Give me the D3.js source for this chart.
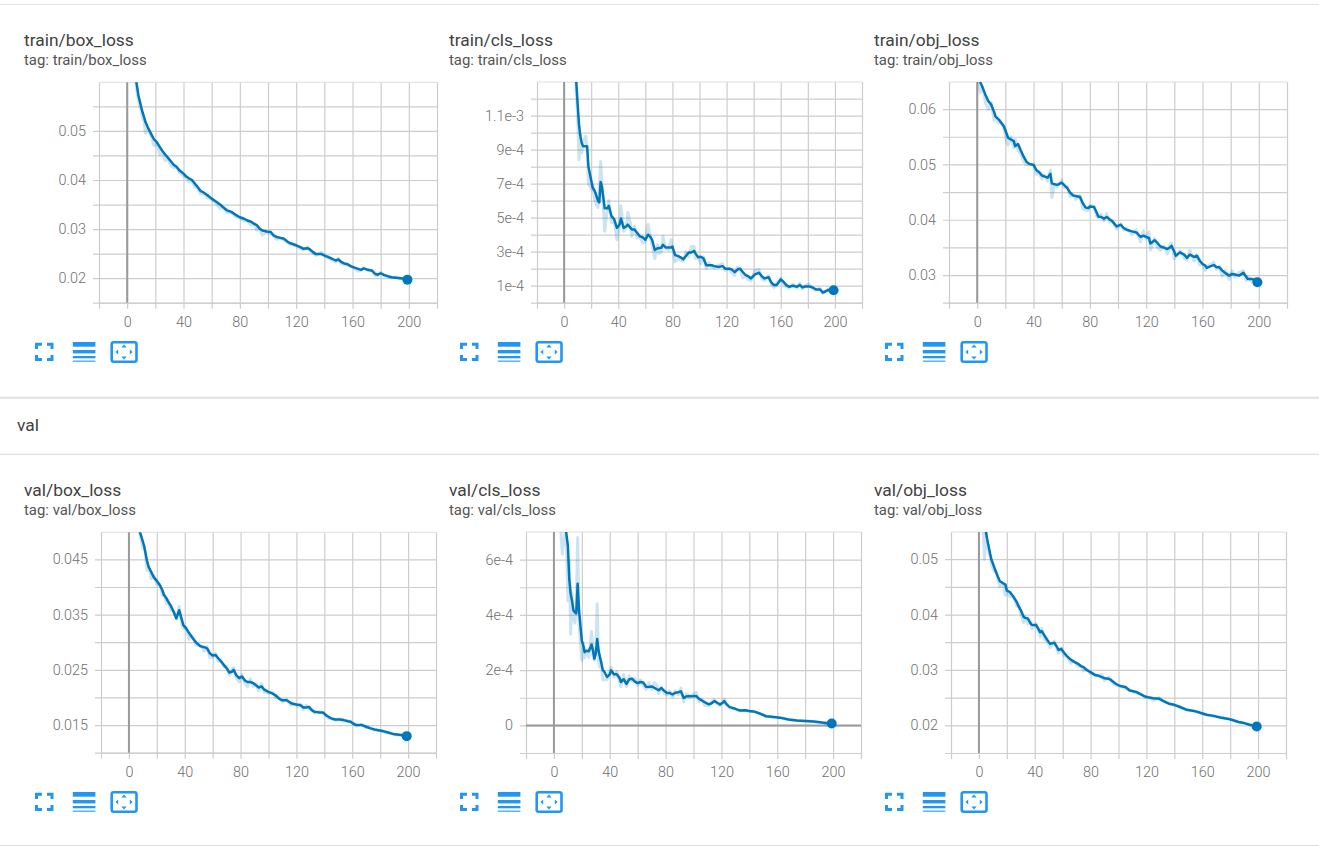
<!DOCTYPE html>
<html>
<head>
<meta charset="utf-8">
<title>loss curves</title>
<script src="https://cdn.jsdelivr.net/npm/d3@7"></script>
<style>
  html, body { margin: 0; padding: 0; background: #fff; }
  svg { display: block; font-family: Roboto, sans-serif; }
  .tick text { font-family: Roboto, sans-serif; font-size: 14.4px; font-weight: 300; fill: #6f6f6f; }
</style>
</head>
<body>
<svg id="mainsvg" width="1319" height="846"></svg>
<script>
// values, step / smoothed / raw per chart
const trainBoxSteps = [0,2,4,6,8,10,11,12,13,15,
  17,19,21,23,25,27,29,31,33,35,
  37,40,42,44,46,48,50,52,54,57,
  60,63,66,68,71,74,77,80,83,85,
  88,90,92,94,96,99,102,104,106,109,
  111,114,116,120,123,125,128,130,132,134,
  138,141,143,146,148,150,152,154,156,159,
  161,164,166,168,171,174,176,178,180,182,
  185,188,191,194,197,199];
const trainBoxSmooth = [.0950,.0820,.0690,.0610,.0572,.0548,.0537,.0528,.0518,.0505,
  .0494,.0483,.0477,.0468,.0459,.0452,.0445,.0438,.0431,.0427,
  .0420,.0413,.0407,.0403,.0400,.0393,.0386,.0378,.0375,.0369,
  .0362,.0356,.0350,.0345,.0338,.0335,.0329,.0324,.0321,.0318,
  .0315,.0311,.0308,.0301,.0297,.0295,.0294,.0287,.0284,.0282,
  .0281,.0274,.0271,.0267,.0263,.0260,.0261,.0258,.0253,.0249,
  .0249,.0245,.0243,.0239,.0236,.0238,.0233,.0230,.0229,.0224,
  .0222,.0219,.0217,.0220,.0217,.0215,.0209,.0207,.0210,.0207,
  .0204,.0202,.0201,.0200,.0199,.0197];
const trainBoxRaw = [.0950,.0790,.0680,.0600,.0560,.0540,.0525,.0520,.0495,.0503,
  .0490,.0470,.0475,.0452,.0455,.0440,.0442,.0430,.0425,.0426,
  .0415,.0408,.0405,.0396,.0398,.0385,.0384,.0372,.0374,.0364,
  .0360,.0353,.0342,.0344,.0333,.0334,.0325,.0323,.0316,.0318,
  .0308,.0310,.0298,.0299,.0288,.0293,.0290,.0286,.0279,.0282,
  .0278,.0273,.0268,.0266,.0260,.0257,.0264,.0256,.0252,.0246,
  .0253,.0243,.0240,.0237,.0233,.0240,.0230,.0229,.0226,.0224,
  .0220,.0214,.0216,.0221,.0215,.0216,.0205,.0206,.0212,.0206,
  .0203,.0201,.0202,.0199,.0199,.0197];
const trainBoxGrid = [.015,.02,.025,.03,.035,.04,.045,.05,.055];
const trainBoxTicks = [.02,.03,.04,.05];
const trainBoxLabels = ['0.02','0.03','0.04','0.05'];

const trainClsSteps = [0,4,8,9,10,11,12,13,14,16,
  17,18,20,21,23,25,26,27,28,30,
  32,33,35,37,39,41,42,44,46,47,
  49,50,52,54,56,58,60,62,64,65,
  67,69,70,72,73,75,77,79,80,82,
  84,86,88,90,92,94,96,97,99,101,
  103,105,107,109,111,114,117,119,122,124,
  126,128,130,132,134,136,138,141,144,146,
  148,151,153,155,157,160,162,164,166,169,
  172,174,176,178,181,184,186,189,191,193,
  195,197,199];
const trainClsSmooth = [30e-4,20e-4,14.2e-4,13e-4,11.7e-4,10.5e-4,9.8e-4,9.4e-4,9.2e-4,9.2e-4,
  9.2e-4,8e-4,7.2e-4,6.8e-4,6.5e-4,6e-4,5.9e-4,7.1e-4,6.8e-4,5.55e-4,
  5.55e-4,5.7e-4,5.1e-4,4.9e-4,4.4e-4,4.6e-4,4.95e-4,4.4e-4,4.5e-4,4.6e-4,
  4.4e-4,4.3e-4,4.3e-4,4.1e-4,3.9e-4,3.85e-4,3.7e-4,4e-4,3.85e-4,3.7e-4,
  3.1e-4,3.2e-4,3.2e-4,3.25e-4,3.4e-4,3.25e-4,3.25e-4,3.25e-4,3.3e-4,2.8e-4,
  2.75e-4,2.67e-4,2.55e-4,2.75e-4,2.95e-4,2.95e-4,3.05e-4,2.9e-4,2.67e-4,2.7e-4,
  2.6e-4,2.2e-4,2.2e-4,2.2e-4,2.15e-4,2.1e-4,2.15e-4,2e-4,2e-4,1.95e-4,
  1.8e-4,1.95e-4,2e-4,1.8e-4,1.63e-4,1.55e-4,1.43e-4,1.67e-4,1.76e-4,1.55e-4,
  1.43e-4,1.5e-4,1.2e-4,1.04e-4,1.04e-4,1.37e-4,1.23e-4,1.05e-4,.94e-4,1e-4,
  .94e-4,1.04e-4,.9e-4,.95e-4,.96e-4,.88e-4,.78e-4,.78e-4,.6e-4,.66e-4,
  .75e-4,.7e-4,.73e-4];
const trainClsRaw = [30e-4,20e-4,14e-4,12.4e-4,11e-4,8.4e-4,9.6e-4,8.8e-4,9.4e-4,9.8e-4,
  9e-4,7e-4,6.7e-4,7e-4,5.9e-4,5.6e-4,6.6e-4,8.3e-4,7e-4,4.2e-4,
  5.5e-4,6e-4,4.7e-4,4.8e-4,3.7e-4,4.5e-4,5.7e-4,4.2e-4,4.4e-4,5.3e-4,
  4.7e-4,3.9e-4,4.5e-4,3.8e-4,3.9e-4,3.5e-4,3.6e-4,4.6e-4,3.7e-4,3.4e-4,
  2.6e-4,3.4e-4,2.9e-4,3e-4,3.9e-4,3.2e-4,3.1e-4,3.7e-4,3.2e-4,2.4e-4,
  2.6e-4,2.5e-4,2.45e-4,3e-4,2.7e-4,3.3e-4,3.3e-4,2.6e-4,2.65e-4,2.3e-4,
  2.7e-4,2e-4,2.35e-4,2.1e-4,2.05e-4,2.2e-4,2.3e-4,1.9e-4,2e-4,1.75e-4,
  1.6e-4,2.1e-4,2e-4,1.45e-4,1.6e-4,1.35e-4,1.3e-4,1.9e-4,1.95e-4,1.4e-4,
  1.3e-4,1.6e-4,1.1e-4,.9e-4,1.15e-4,1.45e-4,1.1e-4,.95e-4,.85e-4,1.1e-4,
  .85e-4,1.15e-4,.82e-4,1e-4,1.1e-4,.8e-4,.75e-4,.85e-4,.55e-4,.7e-4,
  .78e-4,.65e-4,.73e-4];
const trainClsGrid = [0,1e-4,2e-4,3e-4,4e-4,5e-4,6e-4,7e-4,8e-4,9e-4,1e-3,1.1e-3,1.2e-3];
const trainClsTicks = [1e-4,3e-4,5e-4,7e-4,9e-4,1.1e-3];
const trainClsLabels = ['1e-4','3e-4','5e-4','7e-4','9e-4','1.1e-3'];

const trainObjSteps = [0,2,4,6,8,10,12,13,15,16,
  19,21,22,24,26,27,29,31,33,35,
  37,40,42,44,46,48,50,52,53,55,
  57,60,62,64,66,68,70,73,75,77,
  79,80,83,85,86,88,90,92,94,96,
  99,102,104,106,110,113,116,118,120,122,
  123,126,128,130,133,135,137,138,140,141,
  144,147,149,151,154,156,158,160,162,163,
  166,168,170,172,174,176,179,181,183,186,
  189,191,192,195,197,199];
const trainObjSmooth = [.0665,.0650,.0638,.0625,.0614,.0608,.0595,.0587,.0582,.0579,
  .0569,.0555,.0548,.0545,.0542,.0533,.0537,.0525,.0514,.0505,
  .0501,.0499,.0490,.0486,.0480,.0478,.0476,.0483,.0466,.0464,
  .0463,.0467,.0462,.0457,.0449,.0444,.0443,.0441,.0430,.0422,
  .0421,.0424,.0423,.0412,.0406,.0405,.0402,.0405,.0401,.0397,
  .0388,.0391,.0385,.0382,.0379,.0377,.0369,.0371,.0369,.0367,
  .0357,.0363,.0358,.0352,.0349,.0347,.0350,.0353,.0342,.0335,
  .0341,.0337,.0331,.0337,.0333,.0335,.0326,.0320,.0317,.0313,
  .0316,.0318,.0314,.0314,.0308,.0304,.0299,.0302,.0301,.0299,
  .0304,.0297,.0293,.0293,.0291,.0287];
const trainObjRaw = [.0670,.0630,.0640,.0610,.0600,.0612,.0580,.0585,.0575,.0580,
  .0565,.0540,.0535,.0550,.0530,.0545,.0525,.0520,.0505,.0500,
  .0499,.0501,.0482,.0484,.0474,.0481,.0470,.0490,.0440,.0463,
  .0460,.0472,.0458,.0460,.0442,.0446,.0437,.0444,.0420,.0417,
  .0417,.0426,.0424,.0405,.0404,.0410,.0398,.0411,.0396,.0399,
  .0383,.0393,.0381,.0384,.0373,.0382,.0360,.0380,.0365,.0378,
  .0345,.0366,.0350,.0345,.0352,.0338,.0356,.0358,.0330,.0332,
  .0344,.0330,.0327,.0345,.0325,.0337,.0318,.0321,.0308,.0315,
  .0320,.0323,.0310,.0316,.0298,.0309,.0292,.0308,.0296,.0305,
  .0308,.0290,.0297,.0288,.0293,.0287];
const trainObjGrid = [.025,.03,.035,.04,.045,.05,.055,.06];
const trainObjTicks = [.03,.04,.05,.06];
const trainObjLabels = ['0.03','0.04','0.05','0.06'];

const valBoxSteps = [0,3,6,8,10,11,13,14,16,18,
  20,22,24,25,27,28,30,32,34,36,
  38,39,41,43,45,48,51,54,56,58,
  60,62,64,66,68,70,72,74,75,77,
  79,81,83,85,87,89,91,93,95,97,
  100,103,105,108,110,113,116,118,121,123,
  125,127,129,131,133,136,139,141,143,146,
  148,151,154,157,159,161,163,167,170,173,
  176,178,182,185,189,192,195,199];
const valBoxSmooth = [.0700,.0600,.0525,.0499,.0482,.0473,.0447,.0437,.0427,.0417,
  .0411,.0404,.0394,.0386,.0379,.0374,.0366,.0355,.0343,.0358,
  .0340,.0331,.0325,.0317,.0310,.0300,.0293,.0291,.0289,.0280,
  .0276,.0277,.0271,.0265,.0259,.0253,.0245,.0247,.0250,.0240,
  .0235,.0238,.0231,.0228,.0228,.0226,.0222,.0218,.0220,.0214,
  .0210,.0207,.0204,.0197,.0195,.0195,.0190,.0188,.0187,.0186,
  .0182,.0182,.0183,.0177,.0174,.0173,.0173,.0168,.0165,.0161,
  .0160,.0160,.0159,.0157,.0156,.0152,.0150,.0150,.0147,.0144,
  .0142,.0141,.0139,.0137,.0134,.0133,.0132,.0130];
const valBoxRaw = [.0690,.0590,.0520,.0495,.0470,.0475,.0430,.0440,.0415,.0420,
  .0405,.0405,.0385,.0388,.0370,.0376,.0358,.0358,.0342,.0365,
  .0330,.0325,.0327,.0305,.0312,.0295,.0295,.0284,.0292,.0272,
  .0273,.0280,.0265,.0268,.0255,.0256,.0240,.0250,.0254,.0235,
  .0228,.0242,.0226,.0219,.0234,.0220,.0225,.0212,.0225,.0209,
  .0208,.0209,.0200,.0199,.0192,.0197,.0186,.0189,.0184,.0188,
  .0178,.0186,.0180,.0178,.0171,.0175,.0172,.0169,.0162,.0162,
  .0158,.0162,.0157,.0158,.0154,.0153,.0148,.0151,.0145,.0145,
  .0141,.0140,.0140,.0136,.0135,.0132,.0132,.0130];
const valBoxGrid = [.01,.015,.02,.025,.03,.035,.04,.045];
const valBoxTicks = [.015,.025,.035,.045];
const valBoxLabels = ['0.015','0.025','0.035','0.045'];

const valClsSteps = [0,3,5,6,8,9,10,11,12,13,
  14,15,16,17,18,19,20,21,22,23,
  25,27,28,29,30,31,32,33,34,35,
  36,38,40,41,43,45,47,48,50,52,
  54,56,58,60,62,64,66,68,70,72,
  74,75,77,79,81,83,85,87,89,91,
  93,95,97,99,102,104,106,108,111,113,
  115,117,119,121,122,124,126,130,133,137,
  140,144,148,152,156,162,168,174,180,186,
  192,196,199];
const valClsSmooth = [14e-4,11e-4,9e-4,8.2e-4,7.3e-4,6.9e-4,6.5e-4,5.3e-4,4.76e-4,4.5e-4,
  4.16e-4,4.1e-4,4.05e-4,5.13e-4,4.16e-4,3.6e-4,3.07e-4,2.9e-4,2.65e-4,2.7e-4,
  2.68e-4,2.93e-4,2.7e-4,2.41e-4,2.6e-4,3.13e-4,2.7e-4,2.47e-4,2.25e-4,2e-4,
  1.95e-4,1.75e-4,1.85e-4,1.99e-4,1.85e-4,1.85e-4,1.72e-4,1.57e-4,1.67e-4,1.5e-4,
  1.67e-4,1.69e-4,1.58e-4,1.53e-4,1.57e-4,1.55e-4,1.4e-4,1.39e-4,1.41e-4,1.36e-4,
  1.3e-4,1.27e-4,1.35e-4,1.25e-4,1.17e-4,1.17e-4,1.12e-4,1.18e-4,1.2e-4,1.23e-4,
  .99e-4,1.05e-4,1.06e-4,1.05e-4,1.06e-4,.96e-4,.9e-4,.84e-4,.76e-4,.8e-4,
  .88e-4,.82e-4,.76e-4,.82e-4,.88e-4,.75e-4,.66e-4,.6e-4,.54e-4,.55e-4,
  .52e-4,.49e-4,.42e-4,.33e-4,.31e-4,.28e-4,.21e-4,.18e-4,.16e-4,.14e-4,
  .1e-4,.08e-4,.07e-4];
const valClsRaw = [14e-4,10e-4,7e-4,6.2e-4,7e-4,6.6e-4,4.5e-4,6e-4,3.3e-4,4.8e-4,
  3.9e-4,3.7e-4,4.3e-4,6.8e-4,3.7e-4,3e-4,2.35e-4,3e-4,2.45e-4,2.7e-4,
  2.45e-4,3.4e-4,2.5e-4,2.35e-4,2.8e-4,4.4e-4,2.3e-4,2.1e-4,2.3e-4,1.65e-4,
  1.65e-4,1.65e-4,1.95e-4,2.1e-4,1.75e-4,1.95e-4,1.55e-4,1.4e-4,1.85e-4,1.4e-4,
  1.8e-4,1.6e-4,1.7e-4,1.45e-4,1.65e-4,1.45e-4,1.3e-4,1.55e-4,1.3e-4,1.55e-4,
  1.45e-4,1.15e-4,1.4e-4,1.15e-4,1.1e-4,1.25e-4,1.02e-4,1.25e-4,1.1e-4,1.35e-4,
  .85e-4,1.15e-4,1e-4,1.1e-4,1.2e-4,.85e-4,.95e-4,.72e-4,.72e-4,.85e-4,
  .93e-4,.78e-4,.72e-4,.85e-4,.95e-4,.7e-4,.64e-4,.58e-4,.52e-4,.56e-4,
  .5e-4,.5e-4,.41e-4,.33e-4,.3e-4,.28e-4,.21e-4,.18e-4,.16e-4,.14e-4,
  .1e-4,.08e-4,.07e-4];
const valClsGrid = [-1e-4,0,1e-4,2e-4,3e-4,4e-4,5e-4,6e-4];
const valClsTicks = [0,2e-4,4e-4,6e-4];
const valClsLabels = ['0','2e-4','4e-4','6e-4'];

const valObjSteps = [0,2,4,5,6,7,8,9,11,12,
  14,15,17,19,20,22,25,27,28,30,
  32,33,35,37,38,41,44,45,47,49,
  51,54,56,57,59,61,63,66,68,71,
  73,75,77,80,83,85,88,90,93,95,
  98,101,105,108,113,116,119,122,125,129,
  132,136,140,144,149,154,158,163,168,173,
  178,181,186,190,194,199];
const valObjSmooth = [.0720,.0640,.0570,.0549,.0535,.0523,.0510,.0499,.0485,.0478,
  .0466,.0460,.0457,.0454,.0443,.0441,.0431,.0423,.0417,.0408,
  .0396,.0394,.0393,.0384,.0381,.0381,.0368,.0370,.0362,.0354,
  .0347,.0349,.0341,.0336,.0338,.0331,.0325,.0318,.0315,.0311,
  .0307,.0305,.0300,.0296,.0291,.0290,.0287,.0285,.0284,.0281,
  .0275,.0271,.0269,.0263,.0260,.0256,.0252,.0250,.0249,.0248,
  .0244,.0239,.0237,.0233,.0228,.0226,.0223,.0219,.0217,.0214,
  .0212,.0210,.0206,.0204,.0201,.0198];
const valObjRaw = [.0700,.0620,.0500,.0560,.0520,.0515,.0505,.0490,.0478,.0480,
  .0460,.0450,.0458,.0435,.0447,.0432,.0432,.0415,.0420,.0400,
  .0385,.0397,.0383,.0387,.0374,.0384,.0360,.0375,.0355,.0352,
  .0340,.0352,.0338,.0330,.0340,.0325,.0326,.0312,.0317,.0306,
  .0308,.0298,.0302,.0293,.0292,.0289,.0292,.0281,.0287,.0280,
  .0272,.0272,.0266,.0264,.0258,.0257,.0250,.0251,.0245,.0250,
  .0243,.0240,.0236,.0234,.0227,.0226,.0223,.0219,.0217,.0214,
  .0212,.0210,.0206,.0204,.0201,.0198];
const valObjGrid = [.015,.02,.025,.03,.035,.04,.045,.05];
const valObjTicks = [.02,.03,.04,.05];
const valObjLabels = ['0.02','0.03','0.04','0.05'];

const xGrid = [-20,0,20,40,60,80,100,120,140,160,180,200,220];
const xTicks = [0,40,80,120,160,200];

const lineColor = '#0077bb';
const gridColor = '#cdcdcd';
const zeroColor = '#9a9a9a';
const iconColor = '#2196f3';

// layout of each card, in page pixels
const cards = [
  { name: 'train/box_loss', titleX: 24, titleY: 46, left: 99, right: 437, top: 82.3, bottom: 302.7, yDomain: [.015, .0599],
    steps: trainBoxSteps, smooth: trainBoxSmooth, raw: trainBoxRaw, grid: trainBoxGrid, ticks: trainBoxTicks, labels: trainBoxLabels },
  { name: 'train/cls_loss', titleX: 449, titleY: 46, left: 537, right: 862, top: 82, bottom: 302.7, yDomain: [0, 1.298e-3],
    steps: trainClsSteps, smooth: trainClsSmooth, raw: trainClsRaw, grid: trainClsGrid, ticks: trainClsTicks, labels: trainClsLabels },
  { name: 'train/obj_loss', titleX: 874, titleY: 46, left: 949, right: 1287, top: 82, bottom: 302.7, yDomain: [.025, .0649],
    steps: trainObjSteps, smooth: trainObjSmooth, raw: trainObjRaw, grid: trainObjGrid, ticks: trainObjTicks, labels: trainObjLabels },
  { name: 'val/box_loss', titleX: 24, titleY: 496, left: 101, right: 436, top: 532.3, bottom: 752.7, yDomain: [.01, .0499],
    steps: valBoxSteps, smooth: valBoxSmooth, raw: valBoxRaw, grid: valBoxGrid, ticks: valBoxTicks, labels: valBoxLabels },
  { name: 'val/cls_loss', titleX: 449, titleY: 496, left: 526, right: 861, top: 532, bottom: 753, yDomain: [-1e-4, 7e-4],
    steps: valClsSteps, smooth: valClsSmooth, raw: valClsRaw, grid: valClsGrid, ticks: valClsTicks, labels: valClsLabels },
  { name: 'val/obj_loss', titleX: 874, titleY: 496, left: 951, right: 1286, top: 532, bottom: 753, yDomain: [.015, .0549],
    steps: valObjSteps, smooth: valObjSmooth, raw: valObjRaw, grid: valObjGrid, ticks: valObjTicks, labels: valObjLabels }
];

const svg = d3.select('#mainsvg');

// page furniture: separators and the section name
svg.append('rect').attr('width', 1319).attr('height', 846).attr('fill', '#fff');
[[4.5, 1.2], [397.8, 2], [454.4, 1.2], [845.5, 1]].forEach(([y, w]) => {
  svg.append('line').attr('x1', 0).attr('x2', 1319).attr('y1', y).attr('y2', y)
    .attr('stroke', '#e0e0e0').attr('stroke-width', w);
});
svg.append('text').attr('x', 17).attr('y', 431).attr('font-size', 17.4).attr('fill', '#424242').text('val');

const drawIcons = function(g) {
  // fit-to-page, series list and fit-to-data buttons
  const corners = g.append('g').attr('fill', 'none').attr('stroke', iconColor).attr('stroke-width', 3);
  ['M36.5,349V344.2H42', 'M47,344.2H52V349', 'M36.5,355V359.6H42', 'M47,359.6H52V355'].forEach(p => corners.append('path').attr('d', p));
  [[342, 4.7], [350, 3.4], [356, 2.3], [360.6, 1.1]].forEach(([y, h]) => {
    g.append('rect').attr('x', 72.8).attr('y', y).attr('width', 22.6).attr('height', h).attr('fill', iconColor);
  });
  g.append('rect').attr('x', 111.7).attr('y', 342.2).attr('width', 24.8).attr('height', 19.6).attr('rx', 2)
    .attr('fill', 'none').attr('stroke', iconColor).attr('stroke-width', 2.6);
  ['M124,344.6L126.6,347.4H121.4Z', 'M124,359.4L126.6,356.6H121.4Z', 'M115.4,352L118.2,349.4V354.6Z', 'M132.6,352L129.8,349.4V354.6Z']
    .forEach(p => g.append('path').attr('d', p).attr('fill', iconColor));
};

const renderCard = function(card, i) {
  const g = svg.append('g').attr('class', 'card');
  const innerW = card.right - card.left;
  const innerH = card.bottom - card.top;

  g.append('text').attr('x', card.titleX).attr('y', card.titleY)
    .attr('font-size', 17.4).attr('fill', '#424242').text(card.name);
  g.append('text').attr('x', card.titleX).attr('y', card.titleY + 19)
    .attr('font-size', 14.9).attr('fill', '#555').text('tag: ' + card.name);

  const xScale = d3.scaleLinear().domain([-20, 220]).range([card.left, card.right]);
  const yScale = d3.scaleLinear().domain(card.yDomain).range([card.bottom, card.top]);

  const xAxis = d3.axisBottom(xScale)
    .tickValues(xGrid)
    .tickSize(-innerH)
    .tickSizeOuter(0)
    .tickFormat(d => xTicks.indexOf(d) >= 0 ? d : '');
  const xAxisGroup = g.append('g').attr('transform', `translate(0, ${card.bottom})`).call(xAxis);
  xAxisGroup.selectAll('.domain').attr('stroke', gridColor);
  xAxisGroup.selectAll('.tick line').attr('stroke', gridColor).attr('y2', 6).attr('y1', -innerH).attr('stroke-width', 1.2);
  xAxisGroup.selectAll('.tick text').attr('y', 24).attr('dy', 0);

  const yAxis = d3.axisLeft(yScale)
    .tickValues(card.grid)
    .tickSize(-innerW)
    .tickSizeOuter(0)
    .tickFormat(d => {
      const k = card.ticks.indexOf(d);
      return k >= 0 ? card.labels[k] : '';
    });
  const yAxisGroup = g.append('g').attr('transform', `translate(${card.left}, 0)`).call(yAxis);
  yAxisGroup.selectAll('.domain').remove();
  yAxisGroup.selectAll('.tick line').attr('stroke', gridColor).attr('x1', -6).attr('x2', innerW).attr('stroke-width', 1.2);
  yAxisGroup.selectAll('.tick text').attr('x', -13);

  // top edge of the plot
  g.append('line').attr('x1', card.left).attr('x2', card.right).attr('y1', card.top).attr('y2', card.top)
    .attr('stroke', '#dedede');

  // thick axes through zero
  g.append('line').attr('x1', xScale(0)).attr('x2', xScale(0)).attr('y1', card.top).attr('y2', card.bottom)
    .attr('stroke', zeroColor).attr('stroke-width', 2);
  if (card.yDomain[0] < 0) {
    g.append('line').attr('x1', card.left).attr('x2', card.right).attr('y1', yScale(0)).attr('y2', yScale(0))
      .attr('stroke', zeroColor).attr('stroke-width', 2);
  }

  const clipId = 'clip' + i;
  svg.append('clipPath').attr('id', clipId).append('rect')
    .attr('x', card.left).attr('y', card.top).attr('width', innerW).attr('height', innerH);

  const lineOf = values => d3.line()
    .x(d => xScale(d))
    .y((d, k) => yScale(values[k]))(card.steps);

  g.append('path').attr('d', lineOf(card.raw)).attr('clip-path', `url(#${clipId})`)
    .attr('fill', 'none').attr('stroke', lineColor).attr('stroke-opacity', 0.2).attr('stroke-width', 3)
    .attr('stroke-linejoin', 'round');
  g.append('path').attr('d', lineOf(card.smooth)).attr('clip-path', `url(#${clipId})`)
    .attr('fill', 'none').attr('stroke', lineColor).attr('stroke-width', 2.5)
    .attr('stroke-linejoin', 'round');

  const last = card.steps.length - 1;
  g.append('circle').attr('cx', xScale(card.steps[last])).attr('cy', yScale(card.smooth[last])).attr('r', 5)
    .attr('fill', lineColor);

  // buttons under the plot, shifted from the first card position
  const icons = g.append('g').attr('transform', `translate(${card.titleX - 24}, ${card.titleY - 46})`);
  drawIcons(icons);
};

cards.forEach(renderCard);
</script>
</body>
</html>
